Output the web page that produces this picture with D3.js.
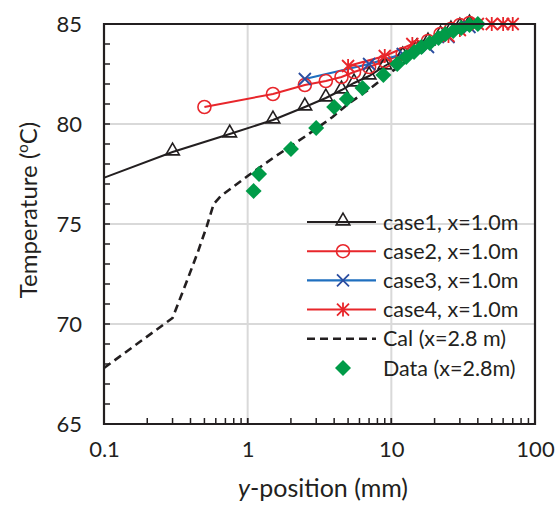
<!DOCTYPE html>
<html>
<head>
<meta charset="utf-8">
<script src="https://cdn.jsdelivr.net/npm/d3@7"></script>
<style>
  html, body { margin: 0; padding: 0; background: #fff; }
  svg { display: block; }
  text { font-family: Lato, "Open Sans", sans-serif; fill: #231f20; }
</style>
</head>
<body>
<svg id="chart" width="559" height="507"></svg>
<script>
// ---------- data ----------
const case1 = [[0.05,76.5],[0.3,78.6],[0.75,79.5],[1.5,80.2],[2.5,80.85],[3.5,81.3],[4.5,81.7],[5.5,82.05],[7,82.4],[9,82.9],[12,83.4],[15,83.8],[18,84.1],[22,84.45],[26,84.7],[30,84.85],[35,85.0]];
const case2 = [[0.5,80.85],[1.5,81.5],[2.5,81.95],[3.5,82.15],[4.5,82.35],[5.5,82.6],[7,82.85],[9,83.15],[12,83.5],[15,83.85],[18,84.15],[22,84.5],[26,84.75],[30,84.95],[35,85.05]];
const case3 = [[2.5,82.25],[7,83.0],[12,83.5],[18,83.85],[25,84.35],[35,84.85]];
const case4 = [[5,82.9],[9,83.4],[14,84.0],[25,84.4],[30,84.7],[40,85],[50,85],[60,85],[70,85],[150,85]];
const cal = [[0.1,67.8],[0.3,70.3],[0.38,72.2],[0.45,73.6],[0.52,74.9],[0.58,76.0],[0.65,76.4],[1.0,77.4],[1.5,78.3],[2.0,78.9],[2.6,79.45],[3.9,80.35],[5,81],[7.2,81.8],[10,82.6],[15,83.5],[20,84.1],[30,84.7],[40,85.0]];
const dataPts = [[1.1,76.65],[1.2,77.5],[2.0,78.75],[3.0,79.8],[4.0,80.85],[4.9,81.25],[6.3,81.8],[8.8,82.45],[11,83.0],[12.7,83.35],[14.4,83.6],[16.2,83.85],[18.5,84.05],[21.3,84.3],[23.8,84.5],[27,84.65],[30.7,84.8],[35,84.95],[40,85.0]];

const xTicks = [0.1, 1, 10, 100];
const xTickLabels = ["0.1", "1", "10", "100"];
const yTicks = [65, 70, 75, 80, 85];
const legendLabels = ["case1, x=1.0m", "case2, x=1.0m", "case3, x=1.0m", "case4, x=1.0m", "Cal (x=2.8 m)", "Data (x=2.8m)"];

// ---------- layout ----------
const svg = d3.select("#chart");
const L = 104, R = 535, T = 24, B = 424;
const x = d3.scaleLog().domain([0.1, 100]).range([L, R]);
const y = d3.scaleLinear().domain([65, 85]).range([B, T]);
const ink = "#231f20";
const red = "#e8262b", blue = "#1f6fbf", blueMk = "#2b4da0", green = "#009b48", grid = "#d9d9d9";

svg.append("defs").append("clipPath").attr("id", "clip")
  .append("rect").attr("x", L).attr("y", T - 12).attr("width", R - L).attr("height", B - T + 12);

// gridlines
const gg = svg.append("g");
gg.selectAll("line.vx").data([1, 10]).join("line")
  .attr("x1", d => x(d)).attr("x2", d => x(d)).attr("y1", T).attr("y2", B)
  .attr("stroke", grid).attr("stroke-width", 2);
gg.selectAll("line.hy").data([70, 75, 80]).join("line")
  .attr("y1", d => y(d)).attr("y2", d => y(d)).attr("x1", L).attr("x2", R)
  .attr("stroke", grid).attr("stroke-width", 2);

// axes
const yAxis = d3.axisLeft(y).tickValues(yTicks).tickSize(0).tickPadding(22).tickFormat(d3.format("d"));
const yA = svg.append("g").attr("transform", `translate(${L},0)`).call(yAxis);
yA.select(".domain").remove();
yA.selectAll("text").attr("font-size", 22).attr("font-family", "Lato").attr("fill", ink);

const xAxis = d3.axisBottom(x).tickValues(xTicks).tickSize(0).tickPadding(17).tickFormat((d, i) => xTickLabels[i]);
const xA = svg.append("g").attr("transform", `translate(0,${B})`).call(xAxis);
xA.select(".domain").remove();
xA.selectAll("text").attr("font-size", 22).attr("font-family", "Lato").attr("fill", ink);

// minor ticks (inside)
const yMinor = d3.range(65, 86, 1);
svg.append("g").selectAll("line").data(yMinor).join("line")
  .attr("x1", L).attr("x2", L + 6).attr("y1", d => y(d)).attr("y2", d => y(d))
  .attr("stroke", ink).attr("stroke-width", 1.5);
const xMinor = [];
[0.1, 1, 10].forEach(dec => { for (let k = 1; k <= 10; k++) xMinor.push(dec * k); });
svg.append("g").selectAll("line").data(xMinor).join("line")
  .attr("x1", d => x(d)).attr("x2", d => x(d)).attr("y1", B).attr("y2", B - 6)
  .attr("stroke", ink).attr("stroke-width", 1.5);

// series
const line = d3.line().x(d => x(d[0])).y(d => y(d[1]));
const plot = svg.append("g").attr("clip-path", "url(#clip)");

function series(data, color, width, dash) {
  plot.append("path").datum(data).attr("d", line).attr("fill", "none")
    .attr("stroke", color).attr("stroke-width", width)
    .attr("stroke-dasharray", dash || null);
}
const triPath = d3.symbol().type(d3.symbolTriangle).size(80)();
const mk = svg.append("g");
function triangles(g, pts) {
  g.selectAll(null).data(pts).join("path").attr("d", triPath)
    .attr("transform", d => `translate(${x(d[0])},${y(d[1]) - 1})`)
    .attr("fill", "none").attr("stroke", ink).attr("stroke-width", 1.6);
}
function circles(g, pts) {
  g.selectAll(null).data(pts).join("circle")
    .attr("cx", d => x(d[0])).attr("cy", d => y(d[1])).attr("r", 6.5)
    .attr("fill", "none").attr("stroke", red).attr("stroke-width", 1.6);
}
function crosses(g, pts, color, star) {
  const s = 6;
  const sel = g.selectAll(null).data(pts).join("g")
    .attr("transform", d => `translate(${x(d[0])},${y(d[1])})`);
  sel.append("path").attr("d", `M${-s},${-s}L${s},${s}M${-s},${s}L${s},${-s}` + (star ? `M0,${-s - 1}L0,${s + 1}` : ""))
    .attr("stroke", color).attr("stroke-width", 1.8).attr("fill", "none");
}
function diamonds(g, pts) {
  const d = 8;
  g.selectAll(null).data(pts).join("path")
    .attr("d", `M0,${-d}L${d},0L0,${d}L${-d},0Z`)
    .attr("transform", p => `translate(${x(p[0])},${y(p[1])})`)
    .attr("fill", green);
}

series(case1, ink, 2);
triangles(mk.append("g"), case1.filter(d => d[0] >= 0.1 && d[0] <= 100));
series(case2, red, 2);
circles(mk.append("g"), case2);
series(case3, blue, 2.2);
crosses(mk.append("g"), case3, blueMk, false);
series(case4, red, 2);
crosses(mk.append("g"), case4.filter(d => d[0] <= 100), red, true);
series(cal, ink, 2.6, "8,5");
diamonds(mk.append("g"), dataPts);

// frame
svg.append("path").attr("d", `M${L},${T}H${R}V${B}H${L}Z`).attr("fill", "none")
  .attr("stroke", ink).attr("stroke-width", 2.2);

// axis titles
const xt = svg.append("text").attr("x", 323).attr("y", 497).attr("text-anchor", "middle")
  .attr("font-size", 25);
xt.append("tspan").attr("font-style", "italic").text("y");
xt.append("tspan").text("-position (mm)");

const yt = svg.append("text").attr("transform", `translate(37,210) rotate(-90)`)
  .attr("text-anchor", "middle").attr("font-size", 24);
yt.append("tspan").text("Temperature (");
yt.append("tspan").attr("font-size", 15).attr("dy", -9).text("o");
yt.append("tspan").attr("dy", 9).text("C)");

// legend
const lg = svg.append("g");
const lx0 = 307, lx1 = 376, lmx = 343, ltx = 383, ly0 = 222, ldy = 29.2;
legendLabels.forEach((lab, i) => {
  const yy = ly0 + i * ldy;
  const g = lg.append("g");
  if (i === 0) { g.append("line").attr("x1", lx0).attr("x2", lx1).attr("y1", yy).attr("y2", yy).attr("stroke", ink).attr("stroke-width", 2); }
  if (i === 1 || i === 3) { g.append("line").attr("x1", lx0).attr("x2", lx1).attr("y1", yy).attr("y2", yy).attr("stroke", red).attr("stroke-width", 2); }
  if (i === 2) { g.append("line").attr("x1", lx0).attr("x2", lx1).attr("y1", yy).attr("y2", yy).attr("stroke", blue).attr("stroke-width", 2.2); }
  if (i === 4) { g.append("line").attr("x1", lx0).attr("x2", lx1).attr("y1", yy).attr("y2", yy).attr("stroke", ink).attr("stroke-width", 2.6).attr("stroke-dasharray", "8,5"); }
  const pt = [[x.invert(lmx), y.invert(yy)]];
  if (i === 0) triangles(g, pt);
  if (i === 1) circles(g, pt);
  if (i === 2) crosses(g, pt, blueMk, false);
  if (i === 3) crosses(g, pt, red, true);
  if (i === 5) diamonds(g, pt);
  g.append("text").attr("x", ltx).attr("y", yy).attr("dy", "0.35em").attr("font-size", 21.5).text(lab);
});
</script>
</body>
</html>
